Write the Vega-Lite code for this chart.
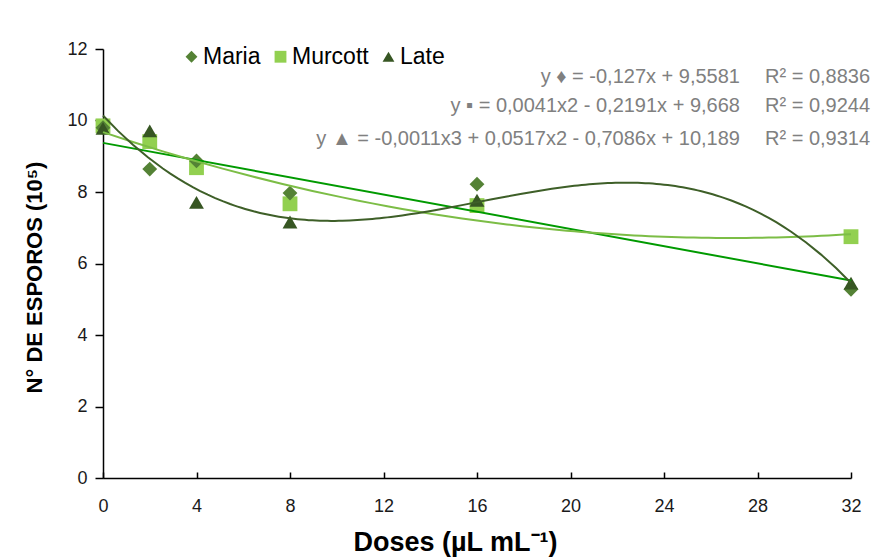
{
  "$schema": "https://vega.github.io/schema/vega-lite/v6.json",
  "width": 748,
  "height": 429,
  "autosize": {"type": "none"},
  "padding": {"left": 103, "top": 49, "right": 20, "bottom": 79},
  "background": "white",
  "config": {
    "view": {"stroke": null},
    "font": "Liberation Sans",
    "axis": {"grid": false, "domainColor": "#000", "domainWidth": 1.5, "tickColor": "#000", "tickWidth": 1.5, "labelFont": "Liberation Sans", "labelFontSize": 18, "labelColor": "#1a1a1a", "labelFlush": false, "titleFont": "Liberation Sans", "titleFontWeight": "bold", "titleColor": "#000"}
  },
  "data": {
    "values": [
      {"dose": 0, "esporos": 9.80, "cultivar": "Maria"},
      {"dose": 2, "esporos": 8.64, "cultivar": "Maria"},
      {"dose": 4, "esporos": 8.87, "cultivar": "Maria"},
      {"dose": 8, "esporos": 7.97, "cultivar": "Maria"},
      {"dose": 16, "esporos": 8.22, "cultivar": "Maria"},
      {"dose": 32, "esporos": 5.28, "cultivar": "Maria"},
      {"dose": 0, "esporos": 9.85, "cultivar": "Murcott"},
      {"dose": 2, "esporos": 9.41, "cultivar": "Murcott"},
      {"dose": 4, "esporos": 8.68, "cultivar": "Murcott"},
      {"dose": 8, "esporos": 7.67, "cultivar": "Murcott"},
      {"dose": 16, "esporos": 7.62, "cultivar": "Murcott"},
      {"dose": 32, "esporos": 6.75, "cultivar": "Murcott"},
      {"dose": 0, "esporos": 9.78, "cultivar": "Late"},
      {"dose": 2, "esporos": 9.71, "cultivar": "Late"},
      {"dose": 4, "esporos": 7.71, "cultivar": "Late"},
      {"dose": 8, "esporos": 7.16, "cultivar": "Late"},
      {"dose": 16, "esporos": 7.77, "cultivar": "Late"},
      {"dose": 32, "esporos": 5.45, "cultivar": "Late"}
    ]
  },
  "layer": [
    {
      "mark": {"type": "point", "filled": true, "opacity": 1, "size": 220},
      "encoding": {
        "x": {"field": "dose", "type": "quantitative", "scale": {"domain": [0, 32], "nice": false},
          "axis": {"values": [0, 4, 8, 12, 16, 20, 24, 28, 32], "title": "Doses (µL mL⁻¹)", "titleFontSize": 27, "titleX": 352, "titleAlign": "center", "tickSize": -6, "labelPadding": 25, "titlePadding": 14}},
        "y": {"field": "esporos", "type": "quantitative", "scale": {"domain": [0, 12], "nice": false},
          "axis": {"values": [0, 2, 4, 6, 8, 10, 12], "title": "N° DE ESPOROS (10⁵)", "titleFontSize": 22, "titleY": 228, "tickSize": 8, "labelPadding": 8, "titlePadding": 20}},
        "color": {"field": "cultivar", "type": "nominal", "sort": ["Maria", "Murcott", "Late"],
          "scale": {"domain": ["Maria", "Murcott", "Late"], "range": ["#548235", "#92d050", "#375623"]},
          "legend": {"title": null, "orient": "none", "direction": "horizontal", "legendX": 77, "legendY": -4, "labelFontSize": 23, "labelColor": "#000", "labelFont": "Liberation Sans", "symbolSize": 140, "labelOffset": 0, "columnPadding": 8, "symbolOpacity": 1}},
        "shape": {"field": "cultivar", "type": "nominal", "sort": ["Maria", "Murcott", "Late"],
          "scale": {"domain": ["Maria", "Murcott", "Late"], "range": ["diamond", "square", "triangle-up"]}},
        "order": {"field": "cultivar", "sort": "descending"}
      }
    },
    {
      "transform": [
        {"filter": "datum.cultivar === 'Maria'"},
        {"regression": "esporos", "on": "dose", "method": "linear", "extent": [0, 32]}
      ],
      "mark": {"type": "line", "color": "#009a00", "strokeWidth": 2},
      "encoding": {"x": {"field": "dose", "type": "quantitative"}, "y": {"field": "esporos", "type": "quantitative"}}
    },
    {
      "transform": [
        {"filter": "datum.cultivar === 'Murcott'"},
        {"regression": "esporos", "on": "dose", "method": "poly", "order": 2, "extent": [0, 32]}
      ],
      "mark": {"type": "line", "color": "#7cbd46", "strokeWidth": 2},
      "encoding": {"x": {"field": "dose", "type": "quantitative"}, "y": {"field": "esporos", "type": "quantitative"}}
    },
    {
      "transform": [
        {"filter": "datum.cultivar === 'Late'"},
        {"regression": "esporos", "on": "dose", "method": "poly", "order": 3, "extent": [0, 32]}
      ],
      "mark": {"type": "line", "color": "#3e5f28", "strokeWidth": 2},
      "encoding": {"x": {"field": "dose", "type": "quantitative"}, "y": {"field": "esporos", "type": "quantitative"}}
    },
    {
      "data": {"values": [{}]},
      "mark": {"type": "text", "align": "right", "baseline": "middle", "fontSize": 20, "color": "#808080", "font": "Liberation Sans"},
      "encoding": {"x": {"datum": 27.25}, "y": {"datum": 11.22}, "text": {"value": "y ♦ = -0,127x + 9,5581"}}
    },
    {
      "data": {"values": [{}]},
      "mark": {"type": "text", "align": "right", "baseline": "middle", "fontSize": 20, "color": "#808080", "font": "Liberation Sans"},
      "encoding": {"x": {"datum": 27.25}, "y": {"datum": 10.41}, "text": {"value": "y ▪ = 0,0041x2 - 0,2191x + 9,668"}}
    },
    {
      "data": {"values": [{}]},
      "mark": {"type": "text", "align": "right", "baseline": "middle", "fontSize": 20, "color": "#808080", "font": "Liberation Sans"},
      "encoding": {"x": {"datum": 27.25}, "y": {"datum": 9.48}, "text": {"value": "y ▲ = -0,0011x3 + 0,0517x2 - 0,7086x + 10,189"}}
    },
    {
      "data": {"values": [{}]},
      "mark": {"type": "text", "align": "left", "baseline": "middle", "fontSize": 20, "color": "#808080", "font": "Liberation Sans"},
      "encoding": {"x": {"datum": 28.32}, "y": {"datum": 11.22}, "text": {"value": "R² = 0,8836"}}
    },
    {
      "data": {"values": [{}]},
      "mark": {"type": "text", "align": "left", "baseline": "middle", "fontSize": 20, "color": "#808080", "font": "Liberation Sans"},
      "encoding": {"x": {"datum": 28.32}, "y": {"datum": 10.41}, "text": {"value": "R² = 0,9244"}}
    },
    {
      "data": {"values": [{}]},
      "mark": {"type": "text", "align": "left", "baseline": "middle", "fontSize": 20, "color": "#808080", "font": "Liberation Sans"},
      "encoding": {"x": {"datum": 28.32}, "y": {"datum": 9.48}, "text": {"value": "R² = 0,9314"}}
    }
  ]
}
